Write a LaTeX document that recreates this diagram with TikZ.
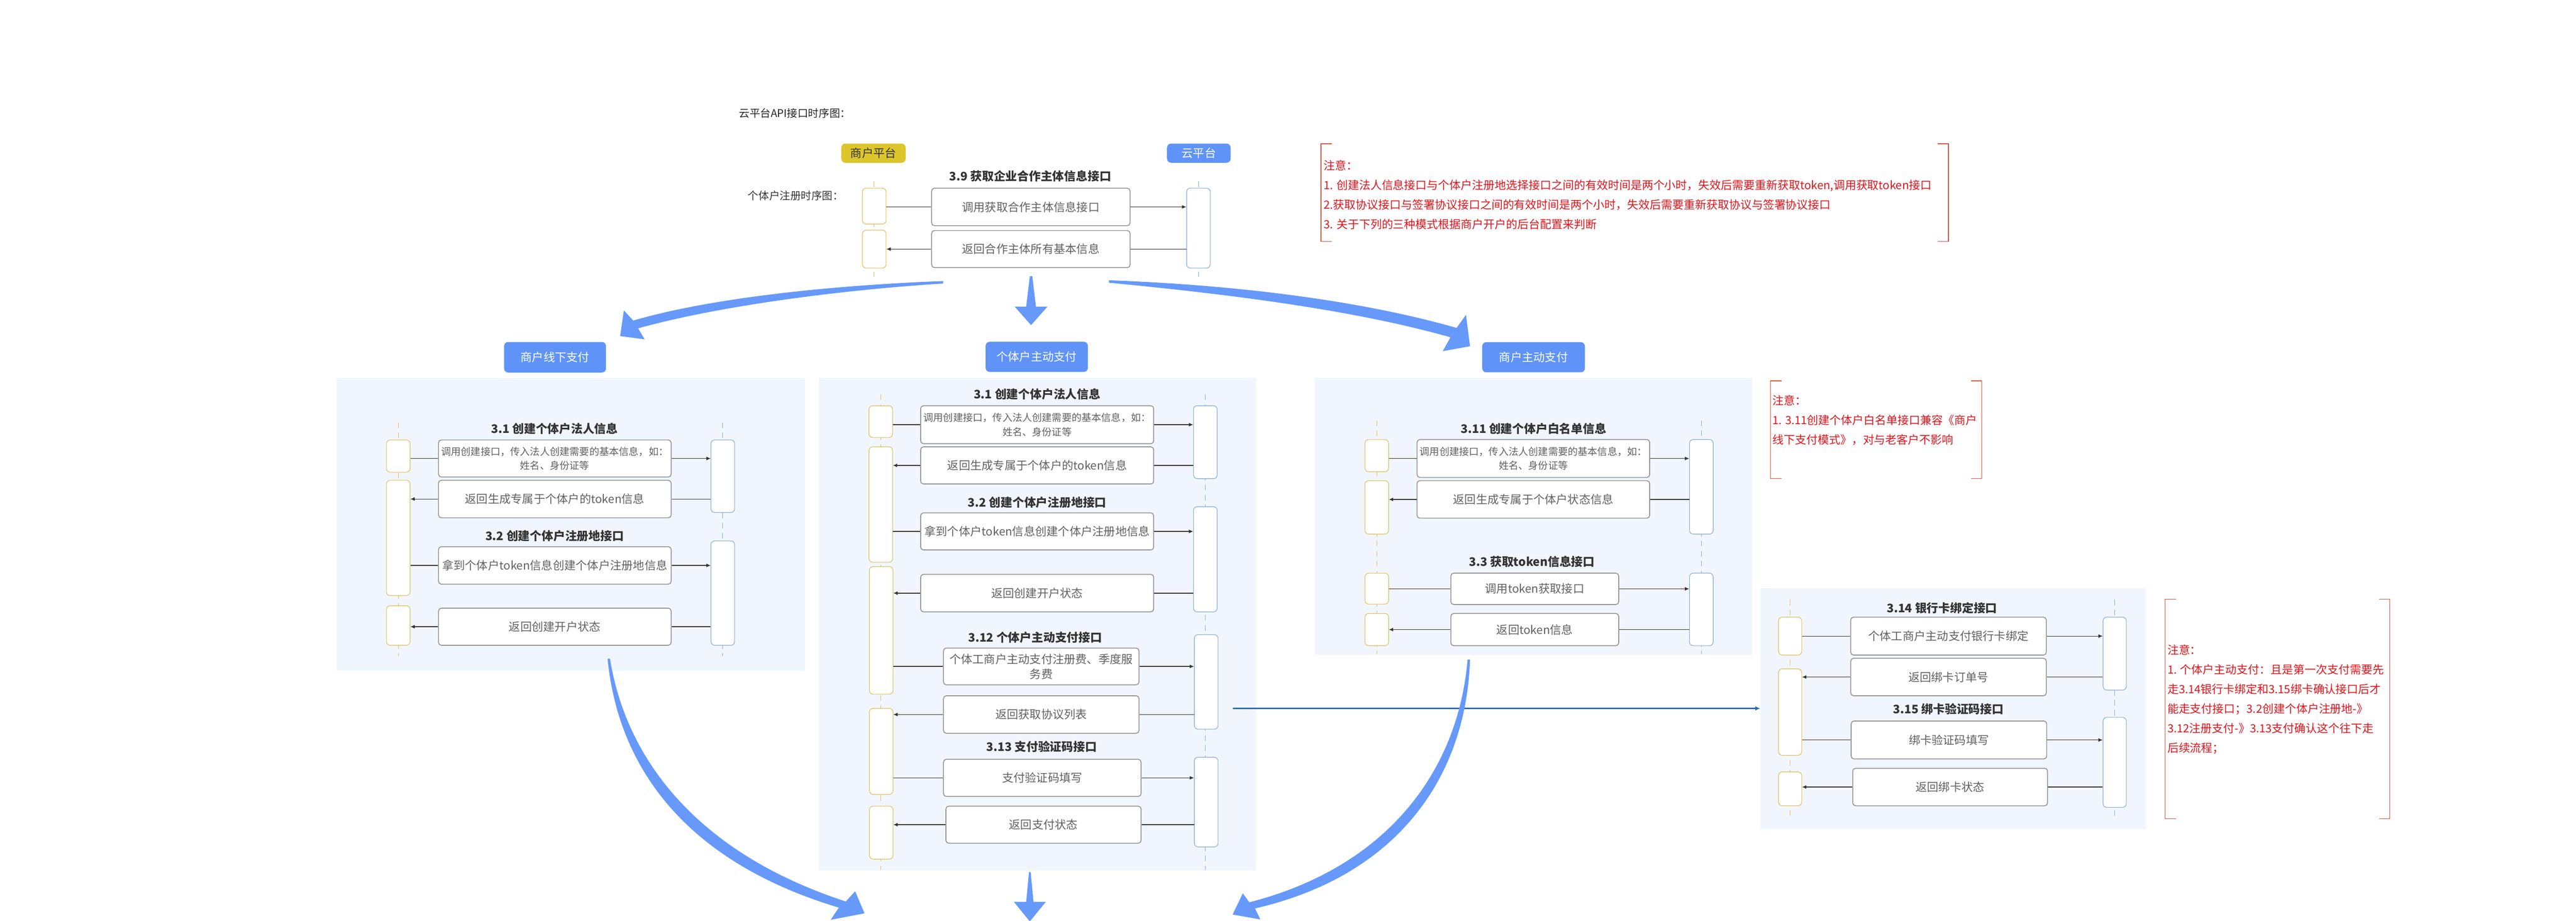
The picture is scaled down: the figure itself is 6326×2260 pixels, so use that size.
\documentclass[tikz,border=0pt]{standalone}
\usepackage{fontspec}
\setmainfont{Noto Sans CJK SC}
\usetikzlibrary{arrows.meta}

\definecolor{bigblue}{HTML}{6699FA}
\definecolor{btnblue}{HTML}{5F93F8}
\definecolor{btnyellow}{HTML}{DCC62C}
\definecolor{panelbg}{HTML}{F1F6FE}
\definecolor{actyellow}{HTML}{DDBB55}
\definecolor{actblue}{HTML}{82A8D8}
\definecolor{notered}{HTML}{E3141B}
\definecolor{bracket}{HTML}{C8553F}
\definecolor{linkblue}{HTML}{2E6DB0}

\tikzset{
  msg/.style={draw=black!42, line width=0.6pt, fill=white, rounded corners=0.07cm,
    inner sep=0pt, align=center, text=black!62, font=\fontsize{8}{10.5}\selectfont},
  small/.style={font=\fontsize{6.9}{10}\selectfont},
  lact/.style={draw=actyellow, line width=0.4pt, fill=white, rounded corners=0.09cm,
    minimum width=0.58cm, inner sep=0pt},
  ract/.style={lact, draw=actblue},
  lifeY/.style={draw=actyellow, line width=0.35pt, dash pattern=on 4pt off 3pt},
  lifeB/.style={lifeY, draw=actblue},
  panel/.style={fill=panelbg, draw=none, inner sep=0pt},
  btn/.style={fill=btnblue, text=white, rounded corners=0.1cm, inner sep=0pt,
    font=\fontsize{8}{10}\selectfont},
  ttl/.style={font=\bfseries\fontsize{8.2}{10}\selectfont, text=black!80},
  seg/.style={draw=black!80, line width=0.5pt},
  call/.style={seg, -{Latex[length=3pt,width=2.6pt]}},
  note/.style={text=notered, align=left, inner sep=0pt, font=\fontsize{7.9}{13.66}\selectfont},
  brk/.style={draw=bracket, line width=0.45pt},
  link/.style={draw=linkblue, line width=0.8pt, -{Latex[length=3.5pt,width=3pt]}}
}

\begin{document}
\begin{tikzpicture}[x=0.01cm, y=-0.01cm]
\useasboundingbox (0,0) rectangle (6326,2260);

% top part
\node[font=\fontsize{7.4}{9}\selectfont, text=black!85] (title) at (1952,278) {云平台API接口时序图：};
\node[btn, fill=btnyellow, text=black!80, minimum width=1.58cm, minimum height=0.47cm] (shop) at (2145,376) {商户平台};
\node[btn, minimum width=1.56cm, minimum height=0.47cm] (cloud) at (2944,376) {云平台};
\node[ttl] (t39) at (2530,433) {3.9 获取企业合作主体信息接口};
\node[font=\fontsize{7.4}{9}\selectfont, text=black!80] (reg) at (1954,480) {个体户注册时序图：};
\draw[lifeY] (2147,445) -- (2147,680);
\draw[lifeB] (2943,445) -- (2943,680);
\node[lact, minimum height=0.88cm] (la01) at (2147,506) {};
\node[lact, minimum height=0.93cm] (la02) at (2147,611.5) {};
\node[ract, minimum height=1.96cm] (ra01) at (2943,560) {};
\node[msg, minimum width=4.87cm, minimum height=0.92cm] (m01) at (2531.5,508) {调用获取合作主体信息接口};
\node[msg, minimum width=4.87cm, minimum height=0.91cm] (m02) at (2531.5,611.5) {返回合作主体所有基本信息};

% note 1
\draw[brk] (3271,353) -- (3244,353) -- (3244,593) -- (3271,593);
\draw[brk] (4758,353) -- (4785,353) -- (4785,593) -- (4758,593);
\node[note, anchor=north west] (n1) at (3250,393) {注意：\\1. 创建法人信息接口与个体户注册地选择接口之间的有效时间是两个小时，失效后需要重新获取token,调用获取token接口\\2.获取协议接口与签署协议接口之间的有效时间是两个小时，失效后需要重新获取协议与签署协议接口\\3. 关于下列的三种模式根据商户开户的后台配置来判断};

% big arrows
\fill[bigblue] (2316,690) .. controls (2050,700) and (1750,730) .. (1555,787) -- (1532,762) -- (1523,825)
  -- (1583,833) -- (1567,806) .. controls (1760,752) and (2060,712) .. (2316,696) -- cycle;
\fill[bigblue] (2529,678) -- (2520,753) -- (2492,753) -- (2532,798) -- (2572,753) -- (2544,753) -- (2535,678) -- cycle;
\fill[bigblue] (2723,688) .. controls (3050,700) and (3350,740) .. (3577,805) -- (3600,773) -- (3610,850)
  -- (3543,862) -- (3562,828) .. controls (3340,765) and (3050,725) .. (2723,694) -- cycle;

% panel A
\node[btn, minimum width=2.5cm, minimum height=0.75cm] (btnA) at (1363,877) {商户线下支付};
\node[panel, minimum width=11.5cm, minimum height=7.18cm] (pA) at (1402,1287) {};
\draw[lifeY] (978,1037) -- (978,1611);
\draw[lifeB] (1775,1037) -- (1775,1611);
\node[ttl] (a31) at (1362,1052) {3.1 创建个体户法人信息};
\node[ttl] (a32) at (1362,1316) {3.2 创建个体户注册地接口};
\node[lact, minimum height=0.79cm] (la1) at (978,1119.5) {};
\node[lact, minimum height=2.83cm] (la2) at (978,1320.5) {};
\node[lact, minimum height=0.97cm] (la3) at (978,1535.5) {};
\node[ract, minimum height=1.78cm] (ra1) at (1775,1169) {};
\node[ract, minimum height=2.56cm] (ra2) at (1775,1456) {};
\node[msg, small, minimum width=5.71cm, minimum height=0.91cm] (am1) at (1362.5,1125.5) {调用创建接口，传入法人创建需要的基本信息，如：\\姓名、身份证等};
\node[msg, minimum width=5.71cm, minimum height=0.92cm] (am2) at (1362.5,1225) {返回生成专属于个体户的token信息};
\node[msg, minimum width=5.71cm, minimum height=0.92cm] (am3) at (1362.5,1388) {拿到个体户token信息创建个体户注册地信息};
\node[msg, minimum width=5.71cm, minimum height=0.91cm] (am4) at (1362.5,1538.5) {返回创建开户状态};

% panel B
\node[btn, minimum width=2.51cm, minimum height=0.74cm] (btnB) at (2546,876) {个体户主动支付};
\node[panel, minimum width=10.73cm, minimum height=12.09cm] (pB) at (2547.5,1532.5) {};
\draw[lifeY] (2163,968) -- (2163,2135);
\draw[lifeB] (2960,968) -- (2960,2135);
\node[ttl] (b31) at (2547,968) {3.1 创建个体户法人信息};
\node[ttl] (b32) at (2547,1233) {3.2 创建个体户注册地接口};
\node[ttl] (b312) at (2542,1565) {3.12 个体户主动支付接口};
\node[ttl] (b313) at (2558,1833) {3.13 支付验证码接口};
\node[lact, minimum height=0.78cm] (lb1) at (2163,1035) {};
\node[lact, minimum height=2.83cm] (lb2) at (2163,1238.5) {};
\node[lact, minimum height=3.13cm] (lb3) at (2164,1547.5) {};
\node[lact, minimum height=2.11cm] (lb4) at (2164,1844.5) {};
\node[lact, minimum height=1.30cm] (lb5) at (2164,2044) {};
\node[ract, minimum height=1.79cm] (rb1) at (2960,1085.5) {};
\node[ract, minimum height=2.58cm] (rb2) at (2960,1373) {};
\node[ract, minimum height=2.32cm] (rb3) at (2962,1674) {};
\node[ract, minimum height=2.20cm] (rb4) at (2962,1969) {};
\node[msg, small, minimum width=5.72cm, minimum height=0.93cm] (bm1) at (2547,1042.5) {调用创建接口，传入法人创建需要的基本信息，如：\\姓名、身份证等};
\node[msg, minimum width=5.72cm, minimum height=0.91cm] (bm2) at (2547,1142.5) {返回生成专属于个体户的token信息};
\node[msg, minimum width=5.72cm, minimum height=0.91cm] (bm3) at (2547,1304.5) {拿到个体户token信息创建个体户注册地信息};
\node[msg, minimum width=5.72cm, minimum height=0.92cm] (bm4) at (2547,1456) {返回创建开户状态};
\node[msg, minimum width=4.80cm, minimum height=0.90cm] (bm5) at (2557,1636) {个体工商户主动支付注册费、季度服\\务费};
\node[msg, minimum width=4.80cm, minimum height=0.92cm] (bm6) at (2557,1754) {返回获取协议列表};
\node[msg, minimum width=4.85cm, minimum height=0.91cm] (bm7) at (2559.5,1909.5) {支付验证码填写};
\node[msg, minimum width=4.79cm, minimum height=0.91cm] (bm8) at (2562.5,2024.5) {返回支付状态};

% panel C
\node[btn, minimum width=2.52cm, minimum height=0.74cm] (btnC) at (3766,877) {商户主动支付};
\node[panel, minimum width=10.73cm, minimum height=6.81cm] (pC) at (3765.5,1267.5) {};
\draw[lifeY] (3381,1032) -- (3381,1605);
\draw[lifeB] (4178,1032) -- (4178,1605);
\node[ttl] (c311) at (3766,1052) {3.11 创建个体户白名单信息};
\node[ttl] (c33) at (3762,1379) {3.3 获取token信息接口};
\node[lact, minimum height=0.79cm] (lc1) at (3381,1118.5) {};
\node[lact, minimum height=1.31cm] (lc2) at (3381,1245.5) {};
\node[lact, minimum height=0.76cm] (lc3) at (3381,1445) {};
\node[lact, minimum height=0.79cm] (lc4) at (3381,1545.5) {};
\node[ract, minimum height=2.32cm] (rc1) at (4178,1195) {};
\node[ract, minimum height=1.78cm] (rc2) at (4178,1496) {};
\node[msg, small, minimum width=5.71cm, minimum height=0.93cm] (cm1) at (3765.5,1125.5) {调用创建接口，传入法人创建需要的基本信息，如：\\姓名、身份证等};
\node[msg, minimum width=5.71cm, minimum height=0.92cm] (cm2) at (3765.5,1226) {返回生成专属于个体户状态信息};
\node[msg, minimum width=4.12cm, minimum height=0.77cm] (cm3) at (3769,1445.5) {调用token获取接口};
\node[msg, minimum width=4.12cm, minimum height=0.79cm] (cm4) at (3769,1545.5) {返回token信息};

% note 2
\draw[brk] (4375,935) -- (4348,935) -- (4348,1175) -- (4375,1175);
\draw[brk] (4840,935) -- (4867,935) -- (4867,1175) -- (4840,1175);
\node[note, anchor=north west] (n2) at (4352,969) {注意：\\1. 3.11创建个体户白名单接口兼容《商户\\线下支付模式》，对与老客户不影响};

% panel D
\node[panel, minimum width=9.45cm, minimum height=5.91cm] (pD) at (4796.5,1739.5) {};
\draw[lifeY] (4396,1472) -- (4396,2009);
\draw[lifeB] (5193,1472) -- (5193,2009);
\node[ttl] (d314) at (4769,1492) {3.14 银行卡绑定接口};
\node[ttl] (d315) at (4785,1740) {3.15 绑卡验证码接口};
\node[lact, minimum width=0.57cm, minimum height=0.93cm] (ld1) at (4396,1561.5) {};
\node[lact, minimum width=0.57cm, minimum height=2.12cm] (ld2) at (4396,1748) {};
\node[lact, minimum width=0.57cm, minimum height=0.83cm] (ld3) at (4396,1936.5) {};
\node[ract, minimum width=0.57cm, minimum height=1.79cm] (rd1) at (5193,1604.5) {};
\node[ract, minimum width=0.57cm, minimum height=2.21cm] (rd2) at (5193,1871.5) {};
\node[msg, minimum width=4.80cm, minimum height=0.93cm] (dm1) at (4785,1561.5) {个体工商户主动支付银行卡绑定};
\node[msg, minimum width=4.80cm, minimum height=0.92cm] (dm2) at (4785,1662) {返回绑卡订单号};
\node[msg, minimum width=4.80cm, minimum height=0.93cm] (dm3) at (4786,1816.5) {绑卡验证码填写};
\node[msg, minimum width=4.78cm, minimum height=0.92cm] (dm4) at (4789,1932) {返回绑卡状态};

% note 3
\draw[brk] (5344,1471) -- (5317,1471) -- (5317,2010) -- (5344,2010);
\draw[brk] (5842,1471) -- (5869,1471) -- (5869,2010) -- (5842,2010);
\node[note, anchor=north west] (n3) at (5322,1582) {注意：\\1. 个体户主动支付：且是第一次支付需要先\\走3.14银行卡绑定和3.15绑卡确认接口后才\\能走支付接口；3.2创建个体户注册地-》\\3.12注册支付-》3.13支付确认这个往下走\\后续流程；};

% messages
\foreach \l/\m/\r in {la01/m01/ra01, la1/am1/ra1, la2/am3/ra2, lb1/bm1/rb1, lb2/bm3/rb2,
    lb3/bm5/rb3, lb4/bm7/rb4, lc1/cm1/rc1, lc3/cm3/rc2, ld1/dm1/rd1, ld2/dm3/rd2} {
  \draw[seg] (\l.east |- \m.west) -- (\m.west);
  \draw[call] (\m.east) -- (\r.west |- \m.east);
}
\foreach \l/\m/\r in {la02/m02/ra01, la2/am2/ra1, la3/am4/ra2, lb2/bm2/rb1, lb3/bm4/rb2,
    lb4/bm6/rb3, lb5/bm8/rb4, lc2/cm2/rc1, lc4/cm4/rc2, ld2/dm2/rd1, ld3/dm4/rd2} {
  \draw[seg] (\r.west |- \m.east) -- (\m.east);
  \draw[call] (\m.west) -- (\l.east |- \m.west);
}

\coordinate (lk) at (3028,1739);
\draw[link] (lk) -- (pD.west |- lk);

% bottom arrows
\fill[bigblue] (1492,1617) .. controls (1520,1900) and (1700,2120) .. (2060,2228) -- (2040,2258) -- (2123,2242)
  -- (2100,2188) -- (2077,2213) .. controls (1730,2100) and (1540,1880) .. (1498,1617) -- cycle;
\fill[bigblue] (2527,2141) -- (2520,2214) -- (2490,2214) -- (2529,2262) -- (2568,2214) -- (2538,2214) -- (2531,2141) -- cycle;
\fill[bigblue] (3604,1619) .. controls (3580,1900) and (3400,2130) .. (3068,2215) -- (3052,2193) -- (3027,2245)
  -- (3095,2257) -- (3082,2230) .. controls (3430,2150) and (3600,1910) .. (3610,1619) -- cycle;

\end{tikzpicture}
\end{document}
